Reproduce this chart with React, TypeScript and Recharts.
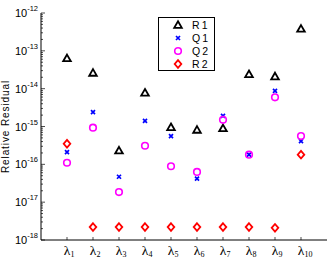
import React from 'react';
import { ScatterChart, Scatter, XAxis, YAxis, Legend } from 'recharts';

// eigenvalue index, shown as λ_i
const lambdas = [1, 2, 3, 4, 5, 6, 7, 8, 9, 10];

const r1 = [6.3e-14, 2.6e-14, 2.3e-16, 7.8e-15, 9.5e-16, 8.1e-16, 8.9e-16, 2.4e-14, 2.1e-14, 3.8e-13];
const q1 = [2.1e-16, 2.4e-15, 4.7e-17, 1.4e-15, 5.6e-16, 4.2e-17, 1.9e-15, 1.8e-16, 8.7e-15, 4.1e-16];
const q2 = [1.1e-16, 9.3e-16, 1.85e-17, 3.1e-16, 8.9e-17, 6.3e-17, 1.5e-15, 1.8e-16, 5.9e-15, 5.6e-16];
const r2 = [3.5e-16, 2.2e-18, 2.2e-18, 2.2e-18, 2.2e-18, 2.2e-18, 2.2e-18, 2.2e-18, 2.1e-18, 1.8e-16];

const decades = [-18, -17, -16, -15, -14, -13, -12];

const yTicks: number[] = [];
decades.forEach((d) => {
  if (d === -12) {
    yTicks.push(1e-12);
    return;
  }
  for (let k = 1; k <= 9; k++) yTicks.push(k * Math.pow(10, d));
});

const toPoints = (vals: number[]) => vals.map((y, i) => ({ x: lambdas[i], y }));

const SANS = 'Liberation Sans, Arial, sans-serif';
const SERIF = 'Liberation Serif, Times New Roman, serif';

const Triangle = ({ cx, cy }: any) => (
  <path d={`M${cx},${cy - 3.8} L${cx + 3.8},${cy + 2.8} L${cx - 3.8},${cy + 2.8} Z`} fill="none" stroke="#000" strokeWidth={1.8} />
);

const Cross = ({ cx, cy }: any) => (
  <path d={`M${cx - 2},${cy - 2} L${cx + 2},${cy + 2} M${cx - 2},${cy + 2} L${cx + 2},${cy - 2}`} stroke="#0000ff" strokeWidth={1.7} />
);

const Ring = ({ cx, cy }: any) => <circle cx={cx} cy={cy} r={3.3} fill="none" stroke="#ff00ff" strokeWidth={1.6} />;

const Diamond = ({ cx, cy }: any) => (
  <path d={`M${cx},${cy - 3.8} L${cx + 3.3},${cy} L${cx},${cy + 3.8} L${cx - 3.3},${cy} Z`} fill="none" stroke="#ff0000" strokeWidth={1.8} />
);

const series = [
  { name: 'R1', data: r1, Shape: Triangle },
  { name: 'Q1', data: q1, Shape: Cross },
  { name: 'Q2', data: q2, Shape: Ring },
  { name: 'R2', data: r2, Shape: Diamond },
];

const isDecade = (v: number) => {
  const e = Math.log10(v);
  return Math.abs(e - Math.round(e)) < 1e-6;
};

const LeftTick = ({ x, y, payload }: any) => {
  const v = payload.value;
  const major = isDecade(v);
  return (
    <g>
      <line x1={x} x2={x + (major ? 4 : 2)} y1={y} y2={y} stroke="#000" strokeWidth={0.7} />
      {major && (
        <text x={x - 3} y={y + 4} textAnchor="end" fontSize={11} fontFamily={SANS} fill="#000">
          <tspan>10</tspan>
          <tspan dy={-6} fontSize={7.5}>{Math.round(Math.log10(v))}</tspan>
        </text>
      )}
    </g>
  );
};

const RightTick = ({ x, y, payload }: any) => {
  const major = isDecade(payload.value);
  return <line x1={x} x2={x - (major ? 4 : 2)} y1={y} y2={y} stroke="#000" strokeWidth={0.7} />;
};

const BottomTick = ({ x, y, payload }: any) => (
  <g>
    <line x1={x} x2={x} y1={y} y2={y - 3} stroke="#000" strokeWidth={0.7} />
    <text x={x} y={y + 15} textAnchor="middle" fontSize={13.5} fontFamily={SERIF} fill="#000">λ</text>
    <text x={x + 3.4} y={y + 17} textAnchor="start" fontSize={8} fontFamily={SERIF} fill="#000">{payload.value}</text>
  </g>
);

const TopTick = ({ x, y }: any) => <line x1={x} x2={x} y1={y} y2={y + 3} stroke="#000" strokeWidth={0.7} />;

const YLabel = ({ viewBox }: any) => {
  const cy = viewBox.y + viewBox.height / 2;
  return (
    <text transform={`translate(${viewBox.x + 8.5}, ${cy}) rotate(-90)`} textAnchor="middle" fontSize={10} letterSpacing={0.9} fontFamily={SANS} fill="#000">
      Relative Residual
    </text>
  );
};

const LegendBox = () => (
  <div style={{ border: '1px solid #000', background: '#fff', width: 57, height: 54, boxSizing: 'border-box', paddingTop: 1 }}>
    {series.map(({ name, Shape }) => (
      <div key={name} style={{ display: 'flex', alignItems: 'center', height: 12.8 }}>
        <svg width={33} height={12}>
          <Shape cx={19} cy={6} />
        </svg>
        <span style={{ fontFamily: SANS, fontSize: 10.5, letterSpacing: 2.2, lineHeight: '12px' }}>{name}</span>
      </div>
    ))}
  </div>
);

export default function App() {
  return (
    <div style={{ position: 'absolute', left: 0, top: 0, background: '#fff' }}>
      <ScatterChart width={333} height={265} margin={{ top: 13, right: 6, bottom: 0, left: 0 }}>
        <XAxis
          type="number"
          dataKey="x"
          domain={[0, 11]}
          ticks={lambdas}
          interval={0}
          allowDataOverflow
          height={25}
          tickSize={0}
          tickMargin={0}
          tickLine={false}
          axisLine={{ stroke: '#000' }}
          tick={<BottomTick />}
        />
        <XAxis
          xAxisId="top"
          orientation="top"
          type="number"
          domain={[0, 11]}
          ticks={lambdas}
          interval={0}
          allowDataOverflow
          height={0}
          tickSize={0}
          tickMargin={0}
          tickLine={false}
          axisLine={{ stroke: '#000' }}
          tick={<TopTick />}
        />
        <YAxis
          type="number"
          dataKey="y"
          scale="log"
          domain={[1e-18, 1e-12]}
          ticks={yTicks}
          interval={0}
          allowDataOverflow
          width={41}
          tickSize={0}
          tickMargin={0}
          tickLine={false}
          axisLine={{ stroke: '#000' }}
          tick={<LeftTick />}
          label={<YLabel />}
        />
        <YAxis
          yAxisId="right"
          orientation="right"
          type="number"
          scale="log"
          domain={[1e-18, 1e-12]}
          ticks={yTicks}
          interval={0}
          allowDataOverflow
          width={0}
          tickSize={0}
          tickMargin={0}
          tickLine={false}
          axisLine={{ stroke: '#000' }}
          tick={<RightTick />}
        />
        <Legend
          layout="vertical"
          align="center"
          verticalAlign="middle"
          content={<LegendBox />}
          wrapperStyle={{ position: 'absolute', left: 158, top: 17, width: 57, height: 54 }}
        />
        {series.map(({ name, data, Shape }) => (
          <Scatter
            key={name}
            name={name}
            data={toPoints(data)}
            isAnimationActive={false}
            shape={(p: any) => <Shape cx={p.cx} cy={p.cy} />}
          />
        ))}
      </ScatterChart>
    </div>
  );
}
